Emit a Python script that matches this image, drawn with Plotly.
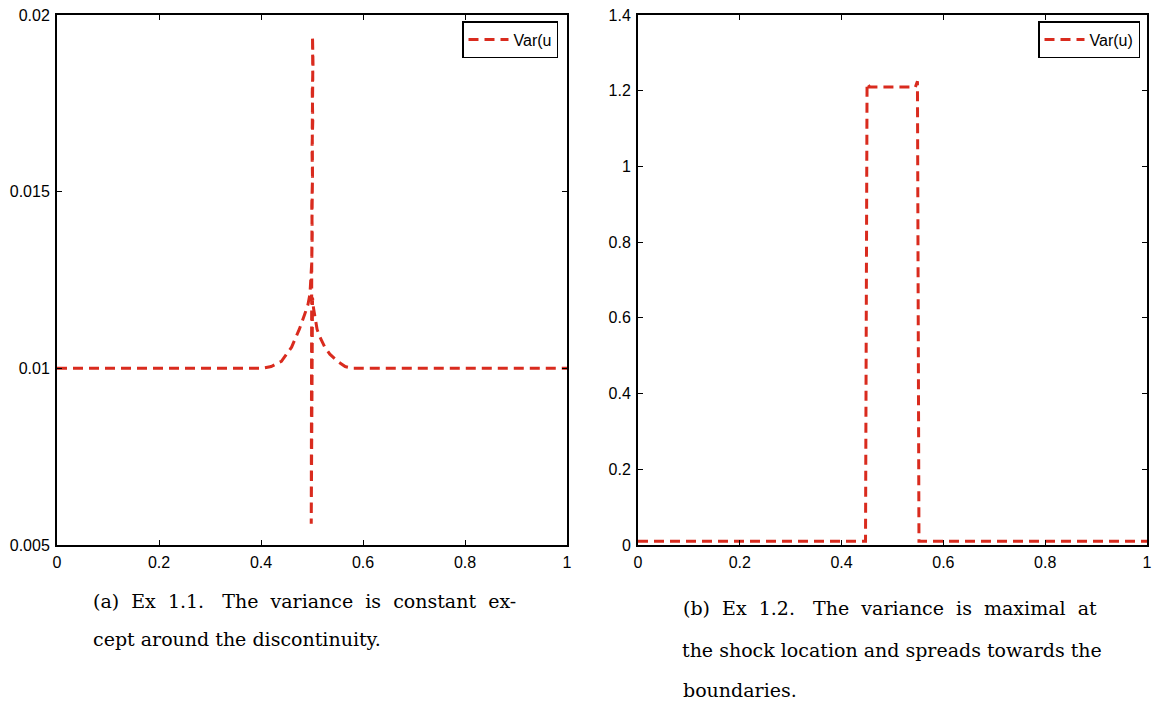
import plotly.graph_objects as go

# Left panel (Ex 1.1)
x_a = [0.0, 0.40, 0.42, 0.44, 0.46, 0.475, 0.485, 0.492, 0.496, 0.498,
       0.4995, 0.5005, 0.4995, 0.5010, 0.5000, 0.5015, 0.5005, 0.5020, 0.5010,
       0.5015, 0.5005, 0.5010, 0.5000, 0.4995, 0.4985,
       0.4990, 0.5000, 0.5010, 0.5030, 0.506, 0.510, 0.515, 0.525, 0.535, 0.55, 0.565, 0.58, 0.60, 1.0]
v_a = [0.0100, 0.0100, 0.01005, 0.0102, 0.0106, 0.0111, 0.0115, 0.0118, 0.0121, 0.0125,
       0.0130, 0.0138, 0.0146, 0.0154, 0.0162, 0.0170, 0.0178, 0.0186, 0.0194,
       0.0182, 0.0168, 0.0155, 0.0142, 0.0130, 0.0056,
       0.0085, 0.0105, 0.0120, 0.0117, 0.0114, 0.0111, 0.0109, 0.0106, 0.0104, 0.0102, 0.01005, 0.0100, 0.0100, 0.0100]

# Right panel (Ex 1.2)
x_b = [0.0, 0.447, 0.450, 0.455, 0.50, 0.545, 0.549, 0.552, 0.556, 1.0]
v_b = [0.01, 0.01, 1.22, 1.21, 1.21, 1.21, 1.225, 0.01, 0.01, 0.01]

xticks = [0, 0.2, 0.4, 0.6, 0.8, 1]
xtick_text = ["0", "0.2", "0.4", "0.6", "0.8", "1"]
yticks_a = [0.005, 0.01, 0.015, 0.02]
ytick_text_a = ["0.005", "0.01", "0.015", "0.02"]
yticks_b = [0, 0.2, 0.4, 0.6, 0.8, 1, 1.2, 1.4]
ytick_text_b = ["0", "0.2", "0.4", "0.6", "0.8", "1", "1.2", "1.4"]

RED = "#d92b1e"
W, H = 1158, 702
SANS = "Liberation Sans, Arial"

fig = go.Figure()
fig.add_trace(go.Scatter(x=x_a, y=v_a, mode="lines", name="Var(u",
                         line=dict(color=RED, width=3, dash="10px,6px"),
                         xaxis="x", yaxis="y", legend="legend"))
fig.add_trace(go.Scatter(x=x_b, y=v_b, mode="lines", name="Var(u)",
                         line=dict(color=RED, width=3, dash="10px,6px"),
                         xaxis="x2", yaxis="y2", legend="legend2"))

ydom = [1 - 545 / H, 1 - 15 / H]
axis_common = dict(showline=True, linecolor="black", linewidth=2, mirror="allticks",
                   ticks="inside", ticklen=5, tickwidth=1, tickcolor="black",
                   showgrid=False, zeroline=False, automargin=False,
                   tickfont=dict(family=SANS, size=16, color="black"))

fig.update_layout(
    width=W, height=H, margin=dict(l=0, r=0, t=0, b=0, autoexpand=False),
    plot_bgcolor="white", paper_bgcolor="white",
    xaxis=dict(domain=[57 / W, 567 / W], range=[0, 1], tickvals=xticks, ticktext=xtick_text,
               anchor="y", ticklabelstandoff=2, **axis_common),
    yaxis=dict(domain=ydom, range=[0.005, 0.02], tickvals=yticks_a, ticktext=ytick_text_a,
               anchor="x", ticklabelstandoff=2, **axis_common),
    xaxis2=dict(domain=[638 / W, 1147 / W], range=[0, 1], tickvals=xticks, ticktext=xtick_text,
                anchor="y2", ticklabelstandoff=2, **axis_common),
    yaxis2=dict(domain=ydom, range=[0, 1.4], tickvals=yticks_b, ticktext=ytick_text_b,
                anchor="x2", ticklabelstandoff=2, **axis_common),
    legend=dict(x=558 / W, y=1 - 21 / H, xanchor="right", yanchor="top",
                bordercolor="black", borderwidth=1.5, bgcolor="white",
                font=dict(family=SANS, size=16, color="black"),
                itemwidth=40, tracegroupgap=0),
    legend2=dict(x=1140 / W, y=1 - 21 / H, xanchor="right", yanchor="top",
                 bordercolor="black", borderwidth=1.5, bgcolor="white",
                 font=dict(family=SANS, size=16, color="black"),
                 itemwidth=40, tracegroupgap=0),
    showlegend=True,
)

NB = "\u00a0"
def justify(words, extra):
    out = words[0]
    for w, e in zip(words[1:], extra):
        out += " " + NB * e + w
    return out

captions = [
    (91, 601, justify(["(a)", "Ex", "1.1.", "The", "variance", "is", "constant", "ex-"], [1, 1, 2, 1, 1, 1, 1])),
    (91, 639, "cept around the discontinuity."),
    (681, 608, justify(["(b)", "Ex", "1.2.", "The", "variance", "is", "maximal", "at"], [1, 1, 2, 1, 1, 1, 1])),
    (680, 650, "the shock location and spreads towards the"),
    (681, 690, "boundaries."),
]
for cx, cy, txt in captions:
    fig.add_annotation(x=cx / W, y=1 - cy / H, xref="paper", yref="paper", text=txt,
                       showarrow=False, xanchor="left", yanchor="middle",
                       font=dict(family="DejaVu Serif, Liberation Serif", size=19, color="black"))

fig.write_html("out.html")
